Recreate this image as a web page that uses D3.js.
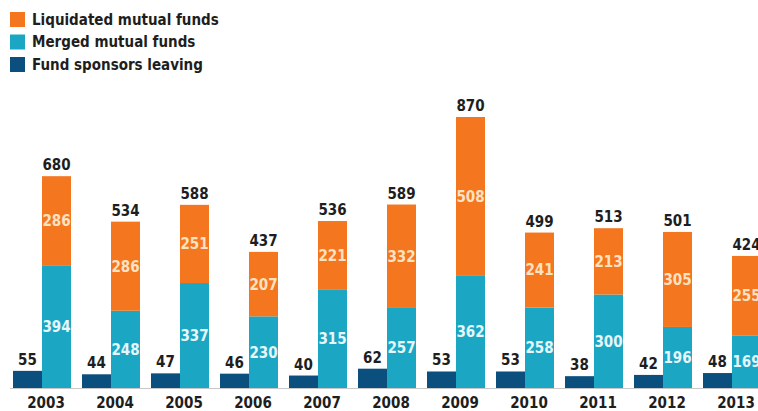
<!DOCTYPE html>
<html>
<head>
<meta charset="utf-8">
<script src="https://cdn.jsdelivr.net/npm/d3@7"></script>
<style>
  body { margin: 0; background: #fff; }
  svg { display: block; }
  text { font-family: "Liberation Sans Narrow", "DejaVu Sans Condensed", sans-serif; font-weight: bold; }
</style>
</head>
<body>
<svg id="chart" width="758" height="411"></svg>
<script>
// data
var years = ["2003", "2004", "2005", "2006", "2007", "2008", "2009", "2010", "2011", "2012", "2013"];
var sponsorsLeaving = [55, 44, 47, 46, 40, 62, 53, 53, 38, 42, 48];
var merged = [394, 248, 337, 230, 315, 257, 362, 258, 300, 196, 169];
var liquidated = [286, 286, 251, 207, 221, 332, 508, 241, 213, 305, 255];

var legendItems = [
    {label: "Liquidated mutual funds", color: "#f4761f"},
    {label: "Merged mutual funds", color: "#1ba7c3"},
    {label: "Fund sponsors leaving", color: "#0b4f7f"}
];

var svg = d3.select("#chart");

var xScale = d3.scaleBand()
    .domain(years)
    .range([7.5, 766.5])
    .paddingInner(11 / 69)
    .paddingOuter(11 / 138);

var xSub = d3.scaleBand()
    .domain(["sponsors", "funds"])
    .range([0, xScale.bandwidth()]);

var yScale = d3.scaleLinear()
    .domain([0, 870])
    .range([388, 117]);

var rows = years.map(function(y, i) {
    return {year: y, sponsors: sponsorsLeaving[i], merged: merged[i], liquidated: liquidated[i],
            total: merged[i] + liquidated[i]};
});

// baseline
svg.append("line")
    .attr("x1", 10).attr("x2", 758)
    .attr("y1", yScale(0) + 0.5).attr("y2", yScale(0) + 0.5)
    .attr("stroke", "#c8c8c8")
    .attr("stroke-width", 1);

var groups = svg.append("g")
    .selectAll("g")
    .data(rows)
    .enter()
    .append("g")
    .attr("transform", function(d) { return "translate(" + xScale(d.year) + ",0)"; });

// sponsors leaving bar
groups.append("rect")
    .attr("x", xSub("sponsors"))
    .attr("width", xSub.bandwidth())
    .attr("y", function(d) { return yScale(d.sponsors); })
    .attr("height", function(d) { return yScale(0) - yScale(d.sponsors); })
    .attr("fill", legendItems[2].color);

// merged
groups.append("rect")
    .attr("x", xSub("funds"))
    .attr("width", xSub.bandwidth())
    .attr("y", function(d) { return yScale(d.merged); })
    .attr("height", function(d) { return yScale(0) - yScale(d.merged); })
    .attr("fill", legendItems[1].color);

// liquidated on top
groups.append("rect")
    .attr("x", xSub("funds"))
    .attr("width", xSub.bandwidth())
    .attr("y", function(d) { return yScale(d.total); })
    .attr("height", function(d) { return yScale(d.merged) - yScale(d.total); })
    .attr("fill", legendItems[0].color);

var cx = xSub("funds") + xSub.bandwidth() / 2;

// labels inside segments
groups.append("text")
    .attr("x", cx)
    .attr("y", function(d) { return (yScale(0) + yScale(d.merged)) / 2; })
    .attr("dy", "0.36em")
    .attr("text-anchor", "middle")
    .attr("font-size", 15)
    .attr("fill", "#e6f6fa")
    .text(function(d) { return d.merged; });

groups.append("text")
    .attr("x", cx)
    .attr("y", function(d) { return (yScale(d.merged) + yScale(d.total)) / 2; })
    .attr("dy", "0.36em")
    .attr("text-anchor", "middle")
    .attr("font-size", 15)
    .attr("fill", "#fde2c2")
    .text(function(d) { return d.liquidated; });

// totals
groups.append("text")
    .attr("x", cx)
    .attr("y", function(d) { return yScale(d.total) - 6; })
    .attr("text-anchor", "middle")
    .attr("font-size", 15)
    .attr("fill", "#1e1e1e")
    .text(function(d) { return d.total; });

// sponsors values
groups.append("text")
    .attr("x", xSub("sponsors") + xSub.bandwidth() / 2)
    .attr("y", function(d) { return yScale(d.sponsors) - 6; })
    .attr("text-anchor", "middle")
    .attr("font-size", 15)
    .attr("fill", "#1e1e1e")
    .text(function(d) { return d.sponsors; });

// year labels
groups.append("text")
    .attr("x", xSub("funds") + 4)
    .attr("y", 408)
    .attr("text-anchor", "middle")
    .attr("font-size", 15)
    .attr("fill", "#1e1e1e")
    .text(function(d) { return d.year; });

// legend
var legend = svg.append("g")
    .selectAll("g")
    .data(legendItems)
    .enter()
    .append("g")
    .attr("transform", function(d, i) { return "translate(10," + (12 + i * 22.5) + ")"; });

legend.append("rect")
    .attr("width", 15)
    .attr("height", 15)
    .attr("fill", function(d) { return d.color; });

legend.append("text")
    .attr("x", 22)
    .attr("y", 7.5)
    .attr("dy", "0.36em")
    .attr("font-size", 15)
    .attr("fill", "#1e1e1e")
    .text(function(d) { return d.label; });
</script>
</body>
</html>
